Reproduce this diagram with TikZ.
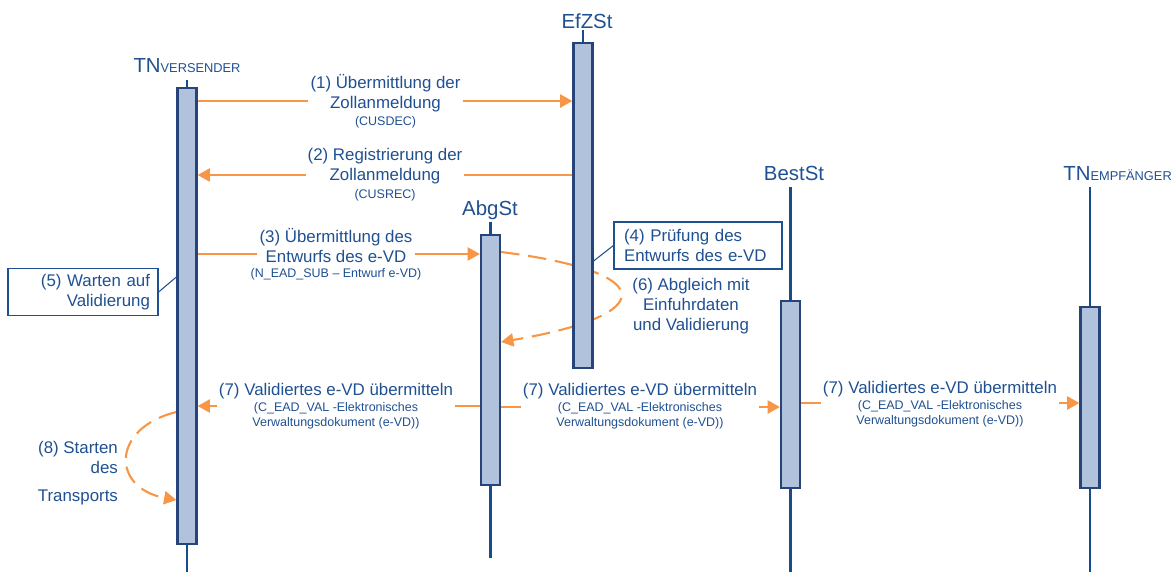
\documentclass[tikz,border=0pt]{standalone}
\usepackage{fontspec}
\setmainfont{Liberation Sans}
\usetikzlibrary{arrows.meta,backgrounds}
\definecolor{tblue}{RGB}{31,80,145}
\definecolor{lblue}{RGB}{22,76,140}
\definecolor{barfill}{RGB}{176,194,220}
\definecolor{barline}{RGB}{38,68,120}
\definecolor{orng}{RGB}{247,150,70}
\newcommand{\mainf}{\fontsize{9.6}{11.4}\selectfont}
\newcommand{\smallf}{\fontsize{7.1}{8.5}\selectfont}
\newcommand{\headf}{\fontsize{11.6}{13}\selectfont}
\newcommand{\capf}{\fontsize{7.3}{9}\selectfont}
\begin{document}
\begin{tikzpicture}[x=0.02cm,y=-0.02cm,
  bar/.style={draw=barline, fill=barfill, line width=1.3pt, minimum width=0.38cm, inner sep=0pt, anchor=north},
  life/.style={draw=lblue, line width=1.4pt},
  msg/.style={draw=orng, line width=1.2pt},
  tip/.style={-{Triangle[length=7pt,width=7.5pt]}},
  dsh/.style={draw=orng, line width=1.2pt, dash pattern=on 10.5pt off 5pt},
  lbl/.style={text=tblue, font=\mainf, align=center, inner sep=1pt},
  sublbl/.style={text=tblue, font=\smallf, align=center, inner sep=1pt},
  hdr/.style={text=tblue, font=\headf, inner sep=0pt, anchor=base},
  note/.style={draw=tblue, line width=0.7pt, text=tblue, font=\mainf, minimum height=0.94cm, inner ysep=2pt},
  pin/.style={draw=tblue, line width=0.6pt}]
\useasboundingbox (0,0) rectangle (1176,572);

% lifeline end points
\coordinate (vtop) at (187,80);
\coordinate (vbot) at (187,572);
\coordinate (etop) at (583,30);
\coordinate (atop) at (490.5,222);
\coordinate (abot) at (490.5,558);
\coordinate (btop) at (790.5,187);
\coordinate (bbot) at (790.5,572);
\coordinate (rtop) at (1090,187);
\coordinate (rbot) at (1090,572);

% activation bars
\node[bar, minimum height=9.12cm] (vb) at (187,87) {};
\node[bar, minimum height=6.5cm] (eb) at (583,42) {};
\node[bar, minimum height=5cm] (ab) at (490.5,234) {};
\node[bar, minimum height=3.74cm] (bb) at (790.5,300) {};
\node[bar, minimum height=3.62cm] (rb) at (1090,306) {};

\begin{scope}[on background layer]
  \draw[life] (vtop) -- (vb.north);
  \draw[life] (vb.south) -- (vbot);
  \draw[life] (etop) -- (eb.north);
  \draw[life] (atop) -- (ab.north);
  \draw[life] (ab.south) -- (abot);
  \draw[life] (btop) -- (bb.north);
  \draw[life] (bb.south) -- (bbot);
  \draw[life] (rtop) -- (rb.north);
  \draw[life] (rb.south) -- (rbot);
  % self messages
  \coordinate (c6s) at (0,252);
  \coordinate (c6e) at (0,342);
  \draw[dsh, tip] (ab.east |- c6s) .. controls (660,272) and (660,315) .. (ab.east |- c6e);
  \coordinate (c8s) at (0,412);
  \coordinate (c8e) at (0,500);
  \draw[dsh, tip] (vb.west |- c8s) .. controls (111,428) and (111,488) .. (vb.west |- c8e);
\end{scope}

% headers
\node[hdr] (hv) at (187,72) {TN{\capf VERSENDER}};
\node[hdr] (he) at (587,28) {EfZSt};
\node[hdr] (ha) at (490,215) {AbgSt};
\node[hdr] (hb) at (794,180) {BestSt};
\node[hdr, anchor=base west] (hr) at (1063,180) {TN{\capf EMPFÄNGER}};

% (1)
\coordinate (y1) at (0,101);
\node[lbl] (t1) at (385.5,93) {(1) Übermittlung der\\Zollanmeldung};
\node[sublbl] (s1) at (385.5,122) {(CUSDEC)};
\draw[msg] (vb.east |- y1) -- (t1.west |- y1);
\draw[msg, tip] (t1.east |- y1) -- (eb.west |- y1);

% (2)
\coordinate (y2) at (0,175);
\node[lbl] (t2) at (385,166) {(2) Registrierung der\\Zollanmeldung};
\node[sublbl] (s2) at (385,195) {(CUSREC)};
\draw[msg] (eb.west |- y2) -- (t2.east |- y2);
\draw[msg, tip] (t2.west |- y2) -- (vb.east |- y2);

% (3)
\coordinate (y3) at (0,254);
\node[lbl] (t3) at (336,246) {(3) Übermittlung des\\Entwurfs des e-VD};
\node[sublbl] (s3) at (336,274) {(N\_EAD\_SUB – Entwurf e-VD)};
\draw[msg] (vb.east |- y3) -- (t3.west |- y3);
\draw[msg, tip] (t3.east |- y3) -- (ab.west |- y3);

% (4)
\node[note, text width=2.96cm, inner xsep=0.2cm, align=left] (n4) at (698,245.5) {(4) Prüfung des\\Entwurfs des e-VD};
\coordinate (c4) at (0,261);
\draw[pin] (n4.west) -- (eb.east |- c4);

% (5)
\node[note, text width=2.68cm, inner xsep=0.16cm, align=right] (n5) at (83,292) {(5) Warten auf\\Validierung};
\coordinate (c5) at (0,277);
\draw[pin] (n5.east) -- (vb.west |- c5);

% (6)
\node[lbl] (t6) at (691,306) {(6) Abgleich mit\\Einfuhrdaten\\und Validierung};

% (7a)
\coordinate (y7a) at (0,406);
\node[lbl] (t7a) at (336,391) {(7) Validiertes e-VD übermitteln};
\node[sublbl] (s7a) at (336,415.5) {(C\_EAD\_VAL -Elektronisches\\Verwaltungsdokument (e-VD))};
\draw[msg] (ab.west |- y7a) -- (t7a.east |- y7a);
\draw[msg, tip] (t7a.west |- y7a) -- (vb.east |- y7a);

% (7b)
\coordinate (y7b) at (0,407);
\node[lbl] (t7b) at (640,391) {(7) Validiertes e-VD übermitteln};
\node[sublbl] (s7b) at (640,415.5) {(C\_EAD\_VAL -Elektronisches\\Verwaltungsdokument (e-VD))};
\draw[msg] (ab.east |- y7b) -- (t7b.west |- y7b);
\draw[msg, tip] (t7b.east |- y7b) -- (bb.west |- y7b);

% (7c)
\coordinate (y7c) at (0,403);
\node[lbl] (t7c) at (940,389) {(7) Validiertes e-VD übermitteln};
\node[sublbl] (s7c) at (940,414) {(C\_EAD\_VAL -Elektronisches\\Verwaltungsdokument (e-VD))};
\draw[msg] (bb.east |- y7c) -- (t7c.west |- y7c);
\draw[msg, tip] (t7c.east |- y7c) -- (rb.west |- y7c);

% (8)
\node[lbl, align=right, anchor=east] (t8) at (120,473) {(8) Starten\\des\\[4.5pt]Transports};
\end{tikzpicture}
\end{document}
